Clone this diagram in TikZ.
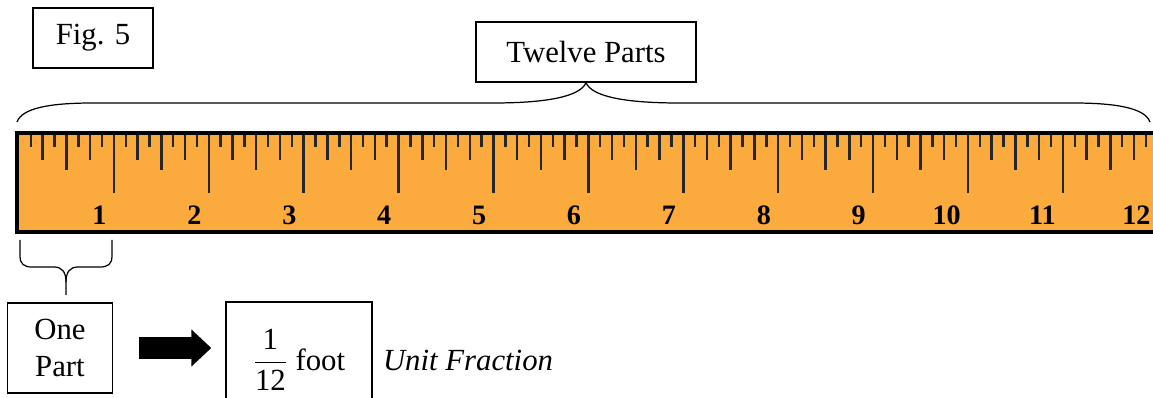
\documentclass[tikz,border=0pt]{standalone}
\usepackage{fontspec}
\setmainfont{Liberation Serif}
\usepackage{amsmath}
\usetikzlibrary{arrows.meta}
\definecolor{rulerorange}{RGB}{251,170,62}
\tikzset{
  labelbox/.style={draw, line width=0.8pt, inner sep=0pt, align=center},
  bracket/.style={line width=0.7pt},
  tickmark/.style={line width=1.4pt, black!85},
  inchnum/.style={font=\bfseries\fontsize{16}{18}\selectfont, anchor=base east, inner sep=0pt},
}
\begin{document}
\begin{tikzpicture}[x=0.02cm, y=-0.02cm, every node/.style={font=\fontsize{17.5}{21}\selectfont}]
\useasboundingbox (0,0) rectangle (1153,398);
% Labels on top
\node[labelbox, minimum width=2.4cm, minimum height=1.2cm] (fig) at (93,38) {Fig. 5};
\node[labelbox, minimum width=4.4cm, minimum height=1.2cm] (twelve) at (586,52) {Twelve Parts};
% Ruler
\fill[rulerorange] (17,133) rectangle (1170,232);
\foreach \k in {1,...,96} {
  \pgfmathsetmacro\tx{19+11.862*\k}
  \pgfmathtruncatemacro\tl{mod(\k,8)==0 ? 193 : (mod(\k,4)==0 ? 170 : (mod(\k,2)==0 ? 160 : 147))}
  \draw[tickmark] (\tx,133) -- (\tx,\tl);
}
\foreach \n in {1,...,12}
  \node[inchnum] (num\n) at ({19+94.9*\n-7},225) {\n};
\draw[line width=2pt] (17,133) rectangle (1170,232);
% Brace over all twelve parts
\draw[bracket] (17,122) .. controls (22,108) and (50,103) .. (93,103) -- (493,103)
  .. controls (545,103) and (580,97) .. (twelve.south)
  .. controls (592,97) and (627,103) .. (679,103) -- (1073,103)
  .. controls (1116,103) and (1145,108) .. (1150,122);
% One part
\node[labelbox, minimum width=2.1cm, minimum height=1.8cm] (onepart) at (60,348) {One\\Part};
\coordinate (ptip) at (66,295);
\draw[bracket] (20,240) -- (20,256) .. controls (20,264) and (24,267) .. (32,267) -- (54,267)
  .. controls (62,267) and (66,272) .. (66,282) -- (ptip);
\draw[bracket] (112,240) -- (112,256) .. controls (112,264) and (108,267) .. (100,267) -- (78,267)
  .. controls (70,267) and (66,272) .. (66,282);
% Unit fraction
\node[labelbox, minimum width=2.92cm, minimum height=2.32cm] (frac) at (299,360) {$\dfrac{\text{1}}{\text{12}}$ foot};
\draw[line width=12pt, -{Triangle[length=0.4cm, width=0.72cm]}, shorten <=0.52cm, shorten >=0.28cm]
  (onepart.east) -- (onepart.east -| frac.west);
\node[anchor=west, inner sep=0pt, font=\itshape\fontsize{17.5}{21}\selectfont] (unit) at ([xshift=0.2cm]frac.east) {Unit Fraction};
\end{tikzpicture}
\end{document}
